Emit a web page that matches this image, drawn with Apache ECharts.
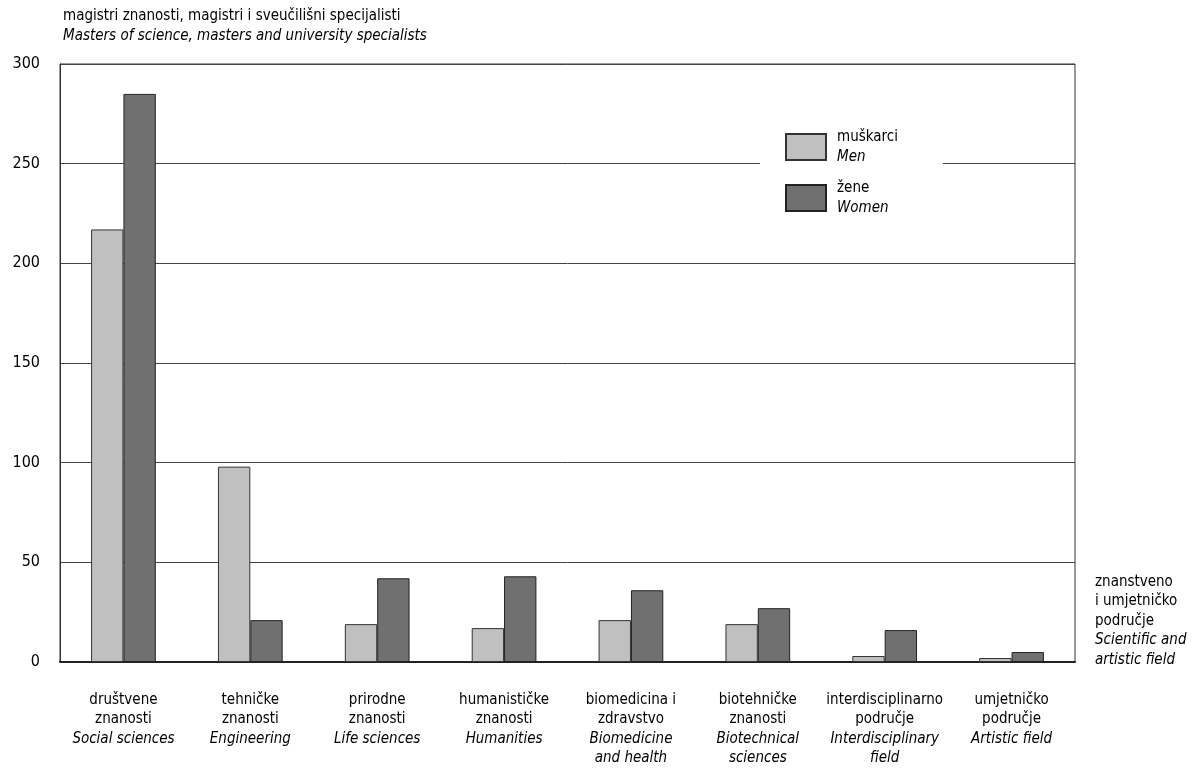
<!DOCTYPE html>
<html><head><meta charset="utf-8">
<script src="https://cdn.jsdelivr.net/npm/echarts@6/dist/echarts.min.js"></script>
<style>html,body{margin:0;padding:0;background:#fff}#c{width:1203px;height:784px}</style>
</head><body><div id="c"></div>
<script>
const catsHr = [['društvene','znanosti'],['tehničke','znanosti'],['prirodne','znanosti'],['humanističke','znanosti'],['biomedicina i','zdravstvo'],['biotehničke','znanosti'],['interdisciplinarno','područje'],['umjetničko','područje']];
const catsEn = [['Social sciences'],['Engineering'],['Life sciences'],['Humanities'],['Biomedicine','and health'],['Biotechnical','sciences'],['Interdisciplinary','field'],['Artistic field']];
const men   = [217, 98, 19, 17, 21, 19, 3, 2];
const women = [285, 21, 42, 43, 36, 27, 16, 5];
const yTicks = [0, 50, 100, 150, 200, 250, 300];
const seriesNames = ['muškarci', 'žene'];
const seriesNamesEn = ['Men', 'Women'];

const FONT = '"Liberation Sans Narrow", "Arial Narrow", "DejaVu Sans Condensed", sans-serif';
const FS = 15;
const cats = catsHr.map((h,i)=> h.join('\n') + '\n' + catsEn[i].map(s=>'{i|'+s+'}').join('\n'));

const chart = echarts.init(document.getElementById('c'));
chart.setOption({
  animation:false,
  backgroundColor:'#fff',
  textStyle:{fontFamily:FONT, color:'#000'},
  title:{
    left:58, top:1,
    text:'magistri znanosti, magistri i sveučilišni specijalisti\n{i|Masters of science, masters and university specialists}',
    textStyle:{fontFamily:FONT, fontSize:FS, fontWeight:'normal', color:'#000', lineHeight:20,
      rich:{i:{fontFamily:FONT, fontSize:FS, fontStyle:'italic', color:'#000', lineHeight:20}}}
  },
  grid:{left:60, right:128, top:64, bottom:122, show:true, borderColor:'#333', borderWidth:1},
  legend:{
    orient:'vertical', left:760, top:123, itemWidth:40, itemHeight:26, itemGap:11, icon:'rect',
    backgroundColor:'#fff', padding:[4,45,4,25],
    data: seriesNames,
    formatter: n => n + '\n{i|' + seriesNamesEn[seriesNames.indexOf(n)] + '}',
    textStyle:{fontFamily:FONT, fontSize:FS, color:'#000', lineHeight:20, padding:[0,0,0,6],
      rich:{i:{fontFamily:FONT, fontSize:FS, fontStyle:'italic', color:'#000', lineHeight:20}}}
  },
  xAxis:{
    type:'category', data:cats,
    axisTick:{show:false},
    axisLine:{lineStyle:{color:'#222', width:2}},
    axisLabel:{interval:0, margin:28, fontFamily:FONT, fontSize:FS, color:'#000', lineHeight:19.5,
      rich:{i:{fontFamily:FONT, fontSize:FS, fontStyle:'italic', color:'#000', lineHeight:19.5}}}
  },
  yAxis:{
    type:'value', min:yTicks[0], max:yTicks[yTicks.length-1], interval:50,
    axisLine:{show:true, lineStyle:{color:'#333', width:1}},
    axisTick:{show:false},
    axisLabel:{margin:20, fontFamily:FONT, fontSize:16, color:'#000'},
    splitLine:{lineStyle:{color:'#444', width:1}}
  },
  series:[
    {name:seriesNames[0], type:'bar', data:men, barGap:'0%', barCategoryGap:'49%',
     itemStyle:{color:'#c0c0c0', borderColor:'#333', borderWidth:1}},
    {name:seriesNames[1], type:'bar', data:women, barGap:'0%', barCategoryGap:'49%',
     itemStyle:{color:'#707070', borderColor:'#222', borderWidth:1}}
  ],
  graphic:[{
    type:'text', left:1095, top:572,
    style:{
      text:'znanstveno\ni umjetničko\npodručje\n{i|Scientific and}\n{i|artistic field}',
      font:FS + 'px ' + FONT, fill:'#000', lineHeight:19.5,
      rich:{i:{fontFamily:FONT, fontSize:FS, fontStyle:'italic', fill:'#000', lineHeight:19.5}}
    }
  }]
});
</script></body></html>
